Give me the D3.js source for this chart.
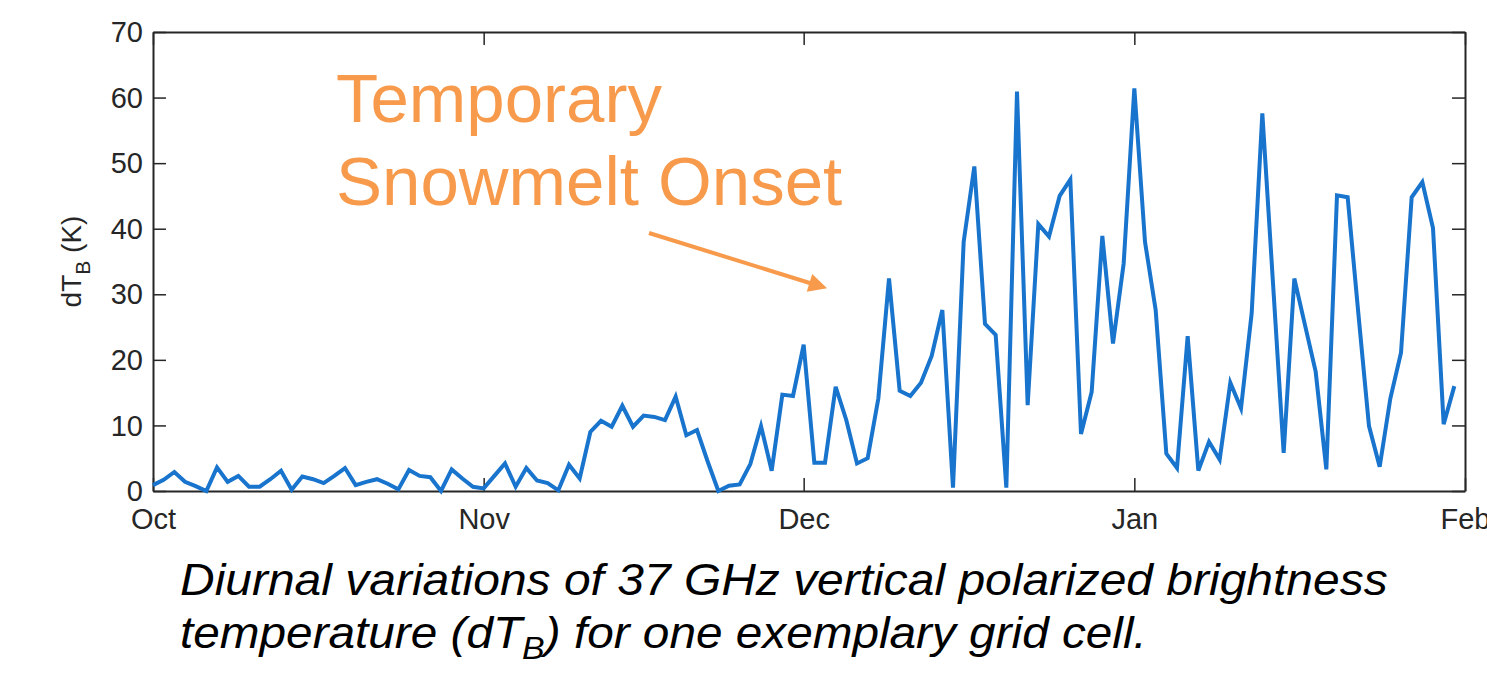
<!DOCTYPE html>
<html>
<head>
<meta charset="utf-8">
<script src="https://cdn.jsdelivr.net/npm/d3@7"></script>
<style>
  body { margin: 0; background: #fff; }
  svg { display: block; font-family: "Liberation Sans", Arial, sans-serif; }
</style>
</head>
<body>
<div id="chart"></div>
<script>
// daily dT_B values, Oct 1 .. Jan 31
const startDay = "2014-10-01";
const dtb = [
  0.9, 1.7, 2.9, 1.4, 0.75, 0.0, 3.6, 1.4, 2.3, 0.65,
  0.65, 1.8, 3.1, 0.2, 2.2, 1.8, 1.2, 2.3, 3.5, 0.9,
  1.4, 1.8, 1.1, 0.25, 3.2, 2.3, 2.1, 0.0, 3.3, 1.9,
  0.65, 0.4, 2.3, 4.2, 0.65, 3.5, 1.6, 1.2, 0.1, 4.0,
  1.9, 9.0, 10.7, 9.8, 13.0, 9.8, 11.5, 11.3, 10.8, 14.4,
  8.5, 9.3, 4.5, 0.0, 0.8, 1.0, 4.1, 9.9, 3.1, 14.7,
  14.5, 22.3, 4.3, 4.3, 15.9, 10.8, 4.2, 5.0, 14.1, 32.4,
  15.3, 14.5, 16.5, 20.6, 27.6, 0.5, 38.0, 49.5, 25.5, 23.8,
  0.5, 60.9, 13.1, 40.7, 38.8, 45.0, 47.5, 8.7, 15.1, 38.9,
  22.5, 34.7, 61.4, 38.0, 27.6, 5.7, 3.5, 23.6, 3.1, 7.5,
  4.8, 16.5, 12.6, 27.1, 57.6, 31.7, 5.8, 32.4, 25.3, 18.2,
  3.3, 45.1, 44.8, 27.1, 9.9, 3.7, 14.1, 21.1, 44.8, 47.1,
  40.1, 10.2, 16.0
];
const monthTicks = ["2014-10-01", "2014-11-01", "2014-12-01", "2015-01-01", "2015-02-01"];
const yTicks = [0, 10, 20, 30, 40, 50, 60, 70];
const noteLines = ["Temporary", "Snowmelt Onset"];
const captionLines = [
  ["Diurnal variations of 37 GHz vertical polarized brightness"],
  ["temperature (dT", "B", ") for one exemplary grid cell."]
];
const captionWidths = [1208, 967];

const width = 1487, height = 677;
const margin = {left: 153, top: 32, right: 22, bottom: 186};
const parse = d3.utcParse("%Y-%m-%d");
const t0 = parse(startDay);
const points = dtb.map((v, i) => ({date: d3.utcDay.offset(t0, i), value: v}));

const x = d3.scaleUtc()
    .domain([parse(monthTicks[0]), parse(monthTicks[monthTicks.length - 1])])
    .range([margin.left, width - margin.right]);
const y = d3.scaleLinear()
    .domain([0, 70])
    .range([height - margin.bottom, margin.top]);

const svg = d3.select("#chart").append("svg")
    .attr("width", width)
    .attr("height", height);

const axisColor = "#262626";
const tickLen = 13;
const monthFmt = d3.utcFormat("%b");

// axes box (MATLAB style, ticks mirrored inside)
const gBottom = svg.append("g")
    .attr("transform", `translate(0,${y(0)})`)
    .call(d3.axisBottom(x).tickValues(monthTicks.map(parse)).tickFormat(monthFmt)
        .tickSizeInner(-tickLen).tickSizeOuter(0).tickPadding(10));
const gTop = svg.append("g")
    .attr("transform", `translate(0,${y(70)})`)
    .call(d3.axisTop(x).tickValues(monthTicks.map(parse)).tickFormat("")
        .tickSizeInner(-tickLen).tickSizeOuter(0));
const gLeft = svg.append("g")
    .attr("transform", `translate(${x.range()[0]},0)`)
    .call(d3.axisLeft(y).tickValues(yTicks).tickSizeInner(-tickLen).tickSizeOuter(0).tickPadding(10));
const gRight = svg.append("g")
    .attr("transform", `translate(${x.range()[1]},0)`)
    .call(d3.axisRight(y).tickValues(yTicks).tickFormat("").tickSizeInner(-tickLen).tickSizeOuter(0));

[gBottom, gTop, gLeft, gRight].forEach(g => {
    g.selectAll("path.domain").attr("stroke", axisColor).attr("stroke-width", 2);
    g.selectAll(".tick line").attr("stroke", axisColor).attr("stroke-width", 1.5);
    g.selectAll(".tick text").attr("fill", "#262626").attr("font-size", 29)
        .attr("font-family", "'Liberation Sans', Arial, sans-serif");
});
gBottom.selectAll(".tick text").attr("dy", "0.98em");
gLeft.selectAll(".tick text").attr("dy", "0.33em");

// y label
const ylab = svg.append("text")
    .attr("transform", `translate(81,${y(35)}) rotate(-90)`)
    .attr("text-anchor", "middle")
    .attr("font-size", 28)
    .attr("fill", "#262626");
ylab.append("tspan").text("dT");
ylab.append("tspan").attr("font-size", 21).attr("dy", 9).text("B");
ylab.append("tspan").attr("dy", -9).text(" (K)");

// series
const line = d3.line()
    .x(d => x(d.date))
    .y(d => y(d.value));
svg.append("path")
    .datum(points)
    .attr("fill", "none")
    .attr("stroke", "#1874CD")
    .attr("stroke-width", 4)
    .attr("stroke-linejoin", "miter")
    .attr("d", line);

// annotation
const orange = "#F79A4B";
svg.append("g")
    .attr("fill", orange)
    .attr("font-size", 69)
    .selectAll("text")
    .data(noteLines)
    .join("text")
    .attr("x", 336)
    .attr("y", (d, i) => 122 + i * 83)
    .text(d => d);

const defs = svg.append("defs");
defs.append("marker")
    .attr("id", "head")
    .attr("viewBox", "0 0 10 10")
    .attr("refX", 2).attr("refY", 5)
    .attr("markerWidth", 5).attr("markerHeight", 4.6)
    .attr("markerUnits", "strokeWidth")
    .attr("orient", "auto")
    .append("path")
    .attr("d", "M0,0L10,5L0,10Z")
    .attr("fill", orange);
svg.append("line")
    .attr("x1", 649).attr("y1", 233)
    .attr("x2", 813).attr("y2", 284)
    .attr("stroke", orange)
    .attr("stroke-width", 4)
    .attr("marker-end", "url(#head)");

// caption (fitted to the reference line widths)
const cap = svg.append("g")
    .attr("font-size", 45)
    .attr("font-style", "italic")
    .attr("fill", "#000");
const capBase = [595, 648];
captionLines.forEach((parts, i) => {
    const t = cap.append("text").attr("x", 0).attr("y", 0);
    parts.forEach((p, j) => {
        const s = t.append("tspan").text(p);
        if (j === 1) s.attr("font-size", 32).attr("dy", 11);
        if (j === 2) s.attr("dy", -11);
    });
    const w = t.node().getBBox().width;
    t.attr("transform", `translate(180,${capBase[i]}) scale(${captionWidths[i] / w},1)`);
});
</script>
</body>
</html>
